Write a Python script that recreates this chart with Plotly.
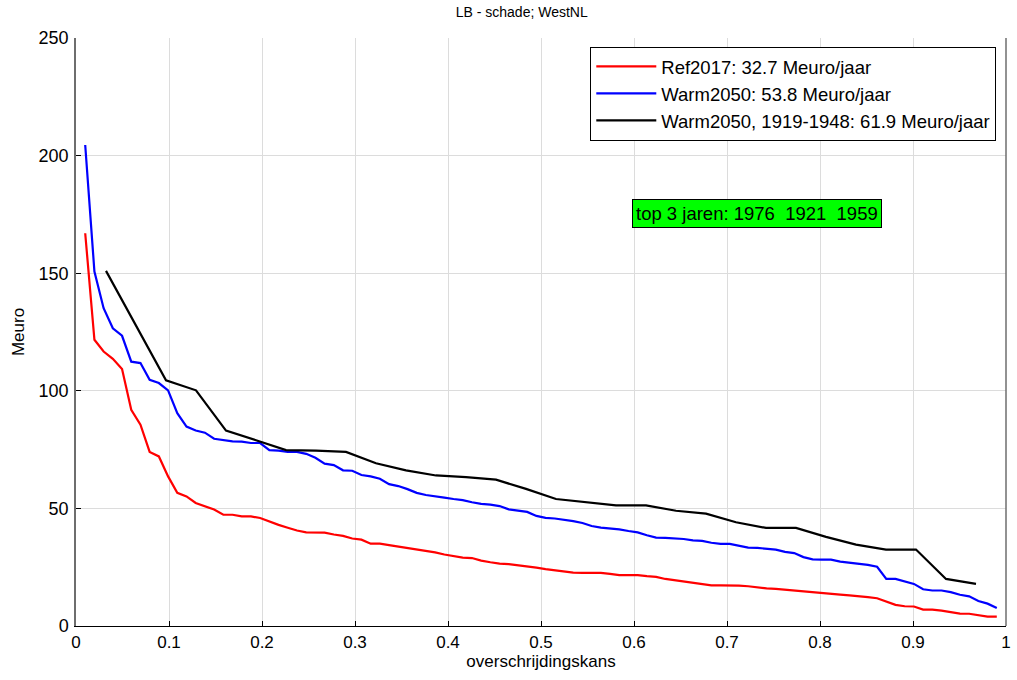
import plotly.graph_objects as go

# ---- data ----
ref2017 = [167.0, 121.7, 116.7, 113.6, 109.3, 91.9, 85.6, 74.0, 72.1, 63.6,
           56.6, 55.1, 52.3, 50.9, 49.5, 47.3, 47.3, 46.6, 46.6, 45.9,
           44.3, 43.0, 41.8, 40.6, 39.8, 39.8, 39.7, 38.9, 38.3, 37.2,
           36.7, 35.0, 35.0, 34.4, 33.8, 33.2, 32.6, 32.0, 31.3, 30.4,
           29.6, 29.1, 28.9, 27.8, 27.1, 26.5, 26.3, 25.9, 25.5, 24.8,
           24.2, 23.6, 23.1, 22.7, 22.6, 22.6, 22.6, 22.2, 21.6, 21.6,
           21.6, 21.2, 20.9, 20.0, 19.4, 19.0, 18.2, 17.6, 17.3, 17.3,
           17.3, 17.2, 16.9, 16.3, 16.0, 15.8, 15.4, 15.0, 14.6, 14.2,
           13.8, 13.4, 13.3, 13.0, 12.8, 12.3, 11.8, 10.3, 9.0, 8.4,
           8.3, 7.0, 7.0, 6.5, 5.9, 5.3, 5.2, 4.6, 4.0, 4.0]

warm2050 = [204.5, 150.7, 135.1, 126.6, 123.4, 112.4, 111.8, 104.7, 103.3, 100.2,
            90.5, 84.8, 83.1, 82.2, 79.6, 79.0, 78.5, 78.4, 77.8, 77.8,
            74.8, 74.6, 74.0, 74.0, 73.2, 71.5, 69.0, 68.4, 66.2, 66.0,
            64.2, 63.6, 62.6, 60.3, 59.5, 58.2, 56.6, 55.7, 55.3, 54.6,
            54.0, 53.5, 52.6, 51.9, 51.6, 51.0, 49.6, 49.2, 48.5, 46.8,
            46.0, 45.7, 45.3, 44.6, 43.8, 42.5, 41.8, 41.5, 41.1, 40.4,
            39.8, 38.6, 37.6, 37.5, 37.4, 37.0, 36.4, 36.2, 35.4, 34.9,
            34.9, 34.1, 33.3, 33.2, 32.7, 32.5, 31.5, 31.0, 29.3, 28.3,
            28.2, 28.2, 27.4, 27.0, 26.5, 26.0, 25.2, 20.0, 20.0, 19.0,
            17.9, 15.6, 15.1, 15.1, 14.4, 13.3, 12.6, 10.6, 9.5, 7.7]

warm2050_1919_1948 = [151.0, 128.0, 104.5, 100.2, 83.1, 79.0, 74.8, 74.6, 74.0, 69.2,
                      66.2, 64.0, 63.3, 62.2, 58.3, 54.0, 52.7, 51.3, 51.3, 49.0,
                      47.8, 44.1, 41.7, 41.7, 37.9, 34.6, 32.5, 32.5, 20.0, 17.9]

series_names = ["Ref2017: 32.7 Meuro/jaar",
                "Warm2050: 53.8 Meuro/jaar",
                "Warm2050, 1919-1948: 61.9 Meuro/jaar"]
series_colors = ["#ff0000", "#0000ff", "#000000"]

x_ticks = [0, 0.1, 0.2, 0.3, 0.4, 0.5, 0.6, 0.7, 0.8, 0.9, 1]
x_ticklabels = ["0", "0.1", "0.2", "0.3", "0.4", "0.5", "0.6", "0.7", "0.8", "0.9", "1"]
y_ticks = [0, 50, 100, 150, 200, 250]
top3_text = "top 3 jaren: 1976\u00a0\u00a01921\u00a0\u00a01959"


def exceedance(values):
    n = len(values)
    return [(i + 1) / (n + 1) for i in range(n)]


fig = go.Figure()
for vals, name, col in zip([ref2017, warm2050, warm2050_1919_1948], series_names, series_colors):
    fig.add_trace(go.Scatter(x=exceedance(vals), y=vals, mode="lines", name=name,
                             legendgroup=name,
                             line=dict(color=col, width=2.2)))

base_font = "Liberation Sans, Arial, sans-serif"

fig.update_layout(
    width=1017, height=680,
    margin=dict(l=76, r=6, t=38, b=54),
    paper_bgcolor="white", plot_bgcolor="white",
    font=dict(family=base_font, color="black"),
    title=dict(text="LB - schade; WestNL", x=0.513, xref="container", xanchor="center",
               y=0.982, yref="container", yanchor="middle",
               font=dict(size=14, family=base_font, color="black")),
    showlegend=True,
    legend=dict(x=0.553, xanchor="left", y=0.985, yanchor="top",
                bgcolor="white", bordercolor="black", borderwidth=1,
                font=dict(size=18.5, family=base_font), itemwidth=60,
                tracegroupgap=0),
    xaxis=dict(range=[0, 1], tickmode="array", tickvals=x_ticks, ticktext=x_ticklabels,
               ticks="inside", ticklen=5, tickcolor="black", tickwidth=1,
               showgrid=True, gridcolor="#dcdcdc", gridwidth=1,
               showline=True, linecolor="black", linewidth=1, zeroline=False,
               tickfont=dict(size=17, family=base_font), ticklabelstandoff=1,
               title=dict(text="overschrijdingskans", standoff=3,
                          font=dict(size=17, family=base_font))),
    yaxis=dict(range=[0, 250], tickmode="array", tickvals=y_ticks,
               ticks="inside", ticklen=5, tickcolor="black", tickwidth=1,
               showgrid=True, gridcolor="#dcdcdc", gridwidth=1,
               showline=True, linecolor="#6e6e6e", linewidth=1.5, zeroline=False,
               tickfont=dict(size=18, family=base_font), ticklabelstandoff=2,
               title=dict(text="Meuro", standoff=10, font=dict(size=17, family=base_font))),
)

# right-hand box edge
fig.add_shape(type="line", xref="paper", yref="paper", x0=1, x1=1, y0=0, y1=1,
              line=dict(color="#6e6e6e", width=1.5))

fig.add_annotation(x=0.732, y=175.2, xref="x", yref="y", text=top3_text,
                   showarrow=False, bgcolor="#00ff00", bordercolor="black",
                   borderwidth=1, borderpad=3,
                   font=dict(size=18.5, family=base_font, color="black"))

fig.write_html("out.html")
